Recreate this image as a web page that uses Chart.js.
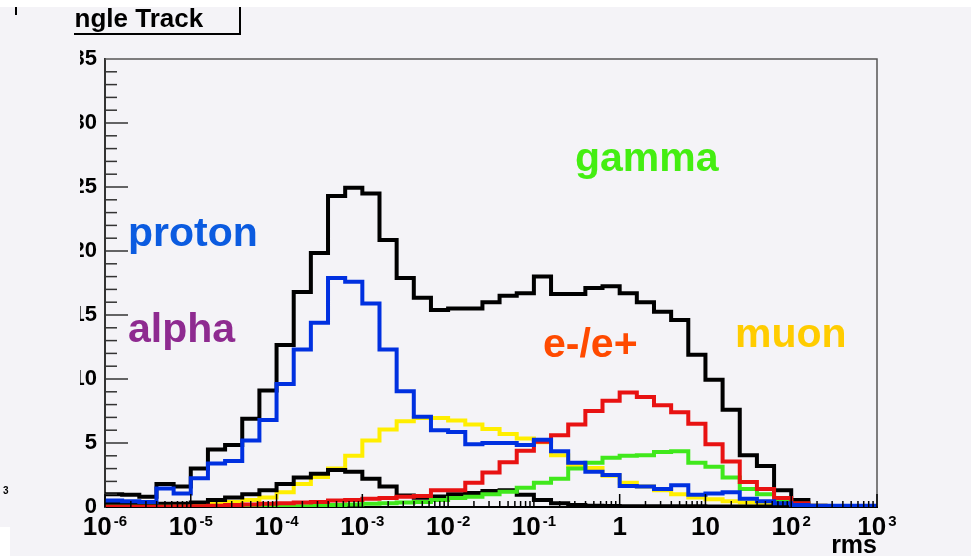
<!DOCTYPE html>
<html>
<head>
<meta charset="utf-8">
<title>Single Track - rms</title>
<script src="https://cdn.jsdelivr.net/npm/chart.js@4.4.0/dist/chart.umd.min.js"></script>
<style>
    html, body { margin: 0; padding: 0; background: #f4f3f7; }
    canvas { display: block; }
</style>
</head>
<body>
<canvas id="myChart" width="971" height="556"></canvas>
<script>
// bin edges in log10(rms), 5 bins per decade from 1e-6 to 1e3
const binEdges = [
    -6.0, -5.8, -5.6, -5.4, -5.2, -5.0, -4.8, -4.6, -4.4, -4.2,
    -4.0, -3.8, -3.6, -3.4, -3.2, -3.0, -2.8, -2.6, -2.4, -2.2,
    -2.0, -1.8, -1.6, -1.4, -1.2, -1.0, -0.8, -0.6, -0.4, -0.2,
    0.0, 0.2, 0.4, 0.6, 0.8, 1.0, 1.2, 1.4, 1.6, 1.8,
    2.0, 2.2, 2.4, 2.6, 2.8, 3.0
];

const total = [
    1.0, 0.95, 0.8, 1.8, 1.6, 3.0, 4.5, 4.85, 6.9, 9.1,
    12.65, 16.8, 19.85, 24.3, 24.95, 24.5, 20.85, 17.9, 16.35, 15.4,
    15.5, 15.5, 16.0, 16.5, 16.7, 18.0, 16.65, 16.65, 17.1, 17.25,
    16.7, 16.0, 15.25, 14.6, 11.9, 9.95, 7.6, 4.05, 3.2, 1.3,
    0.55, 0.05, 0.05, 0.05, 0.05
];
const proton = [
    0.5, 0.45, 0.4, 1.45, 1.05, 2.25, 3.4, 3.6, 5.2, 6.8,
    9.6, 12.3, 14.4, 17.9, 17.6, 15.9, 12.3, 9.05, 7.05, 6.0,
    5.85, 4.9, 5.0, 5.0, 4.85, 5.25, 4.35, 3.45, 2.75, 2.5,
    1.65, 1.6, 1.4, 1.7, 0.95, 1.05, 1.15, 0.65, 0.45, 0.3,
    0.15, 0.1, 0.1, 0.1, 0.1
];
const alpha = [
    0.25, 0.25, 0.25, 0.25, 0.25, 0.35, 0.55, 0.75, 1.0, 1.3,
    1.8, 2.3, 2.6, 2.9, 2.75, 2.2, 1.6, 0.9, 0.72, 0.82,
    1.0, 1.1, 1.25, 1.3, 0.95, 0.55, 0.3, 0.15, 0.1, 0.08,
    0.06, 0.05, 0.05, 0.05, 0.05, 0.04, 0.04, 0.03, 0.03, 0.03,
    0.02, 0.02, 0.02, 0.02, 0.02
];
const muon = [
    0.05, 0.05, 0.05, 0.05, 0.08, 0.15, 0.3, 0.4, 0.55, 0.75,
    1.15, 1.8, 2.35, 3.0, 4.0, 5.2, 6.05, 6.7, 6.95, 6.95,
    6.75, 6.45, 6.1, 5.7, 5.35, 5.05, 4.05, 3.2, 3.05, 2.45,
    1.9, 1.6, 1.3, 1.0, 0.75, 0.6, 0.45, 0.35, 0.25, 0.15,
    0.08, 0.03, 0.03, 0.03, 0.03
];
const electron = [
    0.02, 0.02, 0.02, 0.02, 0.03, 0.05, 0.1, 0.15, 0.2, 0.25,
    0.3, 0.35, 0.4, 0.5, 0.55, 0.65, 0.7, 0.8, 0.85, 1.3,
    1.3, 1.9, 2.7, 3.5, 4.4, 5.1, 5.6, 6.45, 7.5, 8.3,
    8.95, 8.6, 7.95, 7.4, 6.5, 4.9, 3.55, 1.95, 1.4, 0.7,
    0.3, 0.1, 0.02, 0.02, 0.02
];
const gamma = [
    0.02, 0.02, 0.02, 0.02, 0.02, 0.02, 0.02, 0.03, 0.03, 0.04,
    0.04, 0.05, 0.1, 0.15, 0.2, 0.25, 0.3, 0.35, 0.4, 0.55,
    0.7, 0.8, 1.0, 1.2, 1.5, 1.9, 2.2, 3.0, 3.45, 3.85,
    4.0, 4.05, 4.3, 4.35, 3.45, 3.15, 2.3, 1.4, 1.0, 0.5,
    0.25, 0.1, 0.03, 0.03, 0.03
];

// x axis decades and their labels (base + superscript)
const decades = [-6, -5, -4, -3, -2, -1, 0, 1, 2, 3];
const xTickBase = ['10', '10', '10', '10', '10', '10', '1', '10', '10', '10'];
const xTickExp = ['-6', '-5', '-4', '-3', '-2', '-1', '', '', '2', '3'];

const FONT = '"Liberation Sans", Arial, Helvetica, sans-serif';
const BG = '#f4f3f7';

// particle names written on the plot
const names = [
    { text: 'gamma', color: '#44ee11', x: 575, y: 171 },
    { text: 'proton', color: '#0b5be0', x: 128, y: 246 },
    { text: 'alpha', color: '#8e2a90', x: 128, y: 342 },
    { text: 'e-/e+', color: '#ff4a00', x: 543, y: 357 },
    { text: 'muon', color: '#ffcc00', x: 735, y: 347 }
];

// one point per lower bin edge, plus the closing edge
function histPoints(values) {
    return binEdges.map((e, i) => ({ x: e, y: values[Math.min(i, values.length - 1)] }));
}

const slide = {
    id: 'slide',
    beforeDraw(chart) {
        const ctx = chart.ctx;
        ctx.save();
        ctx.fillStyle = BG;
        ctx.fillRect(0, 0, chart.width, chart.height);
        ctx.restore();
    },
    afterDraw(chart) {
        const { ctx, chartArea: a, scales } = chart;
        const x = scales.x, y = scales.y;
        ctx.save();

        // top and right frame
        ctx.strokeStyle = '#555';
        ctx.lineWidth = 1.5;
        ctx.beginPath();
        ctx.moveTo(a.left, a.top);
        ctx.lineTo(a.right, a.top);
        ctx.lineTo(a.right, a.bottom);
        ctx.stroke();

        // y ticks, inside the frame
        ctx.strokeStyle = '#333';
        for (let v = 1; v < 35; v++) {
            const py = y.getPixelForValue(v);
            const len = v % 5 === 0 ? 23 : 12;
            ctx.beginPath();
            ctx.moveTo(a.left, py);
            ctx.lineTo(a.left + len, py);
            ctx.stroke();
        }

        // x ticks: decades and 2..9 minors
        ctx.strokeStyle = '#000';
        decades.forEach((d, i) => {
            const px = x.getPixelForValue(d);
            ctx.beginPath();
            ctx.moveTo(px, a.bottom);
            ctx.lineTo(px, a.bottom - 13);
            ctx.stroke();
            if (i < decades.length - 1) {
                for (let m = 2; m <= 9; m++) {
                    const mx = x.getPixelForValue(d + Math.log10(m));
                    ctx.beginPath();
                    ctx.moveTo(mx, a.bottom);
                    ctx.lineTo(mx, a.bottom - 6);
                    ctx.stroke();
                }
            }
        });

        // x tick labels with superscripts
        ctx.fillStyle = '#000';
        ctx.textBaseline = 'alphabetic';
        ctx.textAlign = 'left';
        decades.forEach((d, i) => {
            const px = x.getPixelForValue(d);
            ctx.font = 'bold 26px ' + FONT;
            const wb = ctx.measureText(xTickBase[i]).width;
            ctx.font = 'bold 15px ' + FONT;
            const we = xTickExp[i] ? ctx.measureText(xTickExp[i]).width + 2 : 0;
            const x0 = px - (wb + we) / 2;
            ctx.font = 'bold 26px ' + FONT;
            ctx.fillText(xTickBase[i], x0, 535);
            if (xTickExp[i]) {
                ctx.font = 'bold 15px ' + FONT;
                ctx.fillText(xTickExp[i], x0 + wb + 2, 526);
            }
        });

        // particle names
        ctx.font = 'bold 41px ' + FONT;
        names.forEach(n => {
            ctx.fillStyle = n.color;
            ctx.fillText(n.text, n.x, n.y);
        });

        // left part of the slide is hidden behind another panel
        ctx.fillStyle = BG;
        ctx.fillRect(0, 7, 80, 505);

        // title box, clipped on the left
        ctx.save();
        ctx.beginPath();
        ctx.rect(75, 0, 200, 40);
        ctx.clip();
        ctx.fillStyle = '#000';
        ctx.font = 'bold 26px ' + FONT;
        ctx.fillText('Single Track', 50, 27);
        ctx.restore();
        ctx.strokeStyle = '#000';
        ctx.lineWidth = 2;
        ctx.beginPath();
        ctx.moveTo(74, 34);
        ctx.lineTo(240, 34);
        ctx.lineTo(240, 7);
        ctx.stroke();

        // stray bits of the slide
        ctx.beginPath();
        ctx.moveTo(16, 7);
        ctx.lineTo(16, 15);
        ctx.stroke();
        ctx.fillStyle = '#000';
        ctx.font = 'bold 10px ' + FONT;
        ctx.fillText('3', 3, 494);

        ctx.fillStyle = '#ffffff';
        ctx.fillRect(0, 0, chart.width, 7);
        ctx.fillRect(0, 527, 10, 29);
        ctx.restore();
    }
};

function histSet(label, values, color) {
    return {
        label: label,
        data: histPoints(values),
        borderColor: color,
        backgroundColor: color,
        borderWidth: 4,
        stepped: 'before',
        pointRadius: 0,
        fill: false
    };
}

const data = {
    datasets: [
        histSet('proton', proton, '#0030e0'),
        histSet('e-/e+', electron, '#e81212'),
        histSet('gamma', gamma, '#40e81c'),
        histSet('total', total, '#000000'),
        histSet('alpha', alpha, '#000000'),
        histSet('muon', muon, '#ffee00')
    ]
};

const config = {
    type: 'line',
    data: data,
    options: {
        responsive: false,
        animation: false,
        devicePixelRatio: 1,
        layout: { padding: { left: 60, right: 94, top: 59, bottom: 0 } },
        elements: { line: { borderJoinStyle: 'miter', borderCapStyle: 'butt' } },
        plugins: {
            legend: { display: false },
            tooltip: { enabled: false }
        },
        scales: {
            x: {
                type: 'linear',
                min: -6,
                max: 3,
                afterFit(s) { s.height = 49; },
                grid: { display: false, drawTicks: false },
                border: { display: true, color: '#000', width: 2 },
                ticks: { display: false },
                title: {
                    display: true,
                    text: 'rms',
                    align: 'end',
                    color: '#000',
                    font: { family: FONT, size: 25, weight: 'bold', lineHeight: 1 },
                    padding: { top: 0, bottom: -3 }
                }
            },
            y: {
                min: 0,
                max: 35,
                afterFit(s) { s.width = 45; },
                grid: { display: false, drawTicks: false },
                border: { display: true, color: '#333', width: 2 },
                ticks: {
                    stepSize: 5,
                    color: '#000',
                    padding: 8,
                    font: { family: FONT, size: 22, weight: 'bold' }
                }
            }
        }
    },
    plugins: [slide]
};

var myChart = new Chart(
    document.getElementById('myChart'),
    config
);
</script>
</body>
</html>
